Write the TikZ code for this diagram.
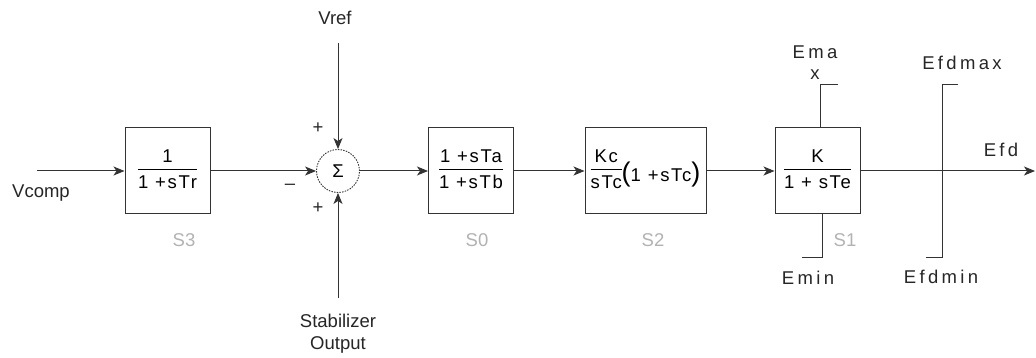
\documentclass[tikz,border=0pt]{standalone}
\usepackage{fontspec}
\setmainfont{Liberation Sans}
\newfontfamily\spaced[LetterSpace=18]{Liberation Sans}
\newfontfamily\boxfont[LetterSpace=9]{Liberation Sans}
\usetikzlibrary{arrows.meta}
\newcommand\fr[2]{\raisebox{-1.5pt}{$\vcenter{\hbox{\begin{tabular}{@{}c@{}}\rule[-5.5pt]{0pt}{13pt}#1\\\hline\rule{0pt}{18.5pt}#2\end{tabular}}}$}}
\newcommand\bigpar[1]{{\fontsize{27}{27}\selectfont #1}}
\begin{document}
\begin{tikzpicture}[x=1pt,y=-1pt,
  font=\fontsize{18.5}{22}\selectfont,
  line/.style={draw=black!80, line width=1pt},
  arr/.style={line, -{Stealth[length=11pt,width=9pt,inset=3pt]}},
  block/.style={draw=black!80, line width=1pt, minimum width=85pt, minimum height=86pt, inner sep=0pt, font=\fontsize{18.5}{22}\boxfont},
  tag/.style={text=black!30},
  lbl/.style={text=black!85, inner sep=0pt},
]
\useasboundingbox (0,0) rectangle (1036,358);
% blocks
\node[block] (s3) at (167.5,171) {\fr{1}{1 +sTr}};
\node[draw=black!80, line width=0.9pt, dash pattern=on 1.5pt off 1.2pt, circle, minimum size=43pt, inner sep=0pt] (sum) at (338,171) {Σ};
\node[block] (s0) at (471,171) {\fr{1 +sTa}{1 +sTb}};
\node[block, minimum width=121pt] (s2) at (645.5,171) {\fr{Kc}{sTc}\raisebox{-8pt}[0pt][0pt]{\bigpar{(}1 +sTc\bigpar{)}}};
\node[block] (s1) at (817.5,171) {\fr{K}{1 + sTe}};
% coordinates
\coordinate (vin) at (37,171);
\coordinate (vref) at (338,43);
\coordinate (stab) at (338,298);
\coordinate (out) at (1035,171);
\coordinate (emaxc) at (820,85);
\coordinate (emaxe) at (838,85);
\coordinate (eminc) at (822,257);
\coordinate (emine) at (802,257);
\coordinate (lt) at (942,85);
\coordinate (lte) at (958,85);
\coordinate (lb) at (942,257);
\coordinate (lbe) at (926,257);
% connectors
\draw[arr] (vin) -- (s3);
\draw[arr] (s3) -- (sum);
\draw[arr] (vref) -- (sum);
\draw[arr] (stab) -- (sum);
\draw[arr] (sum) -- (s0);
\draw[arr] (s0) -- (s2);
\draw[arr] (s2) -- (s1);
\draw[arr] (s1) -- (out);
\draw[line] (emaxc |- s1.north) -- (emaxc) -- (emaxe);
\draw[line] (eminc |- s1.south) -- (eminc) -- (emine);
\draw[line] (lte) -- (lt) -- (lb) -- (lbe);
% labels
\node[lbl] (tvcomp) at (41,193) {Vcomp};
\node[lbl] (tvref) at (335,18) {Vref};
\node[lbl, align=center] (tstab) at (338,334) {Stabilizer\\Output};
\node[lbl] (p1) at (318,128) {+};
\node[lbl] (m1) at (290,187) {–};
\node[lbl] (p2) at (318,208) {+};
\node[lbl, tag] (t3) at (184,240) {S3};
\node[lbl, tag] (t0) at (477,240) {S0};
\node[lbl, tag] (t2) at (653,240) {S2};
\node[lbl, tag] (t1) at (845,240) {S1};
\node[lbl] (tema) at (815,52) {\spaced Ema};
\node[lbl] (tx) at (815,75) {\spaced x};
\node[lbl] (temin) at (808,278) {\spaced Emin};
\node[lbl] (tefdmax) at (962,63) {\spaced Efdmax};
\node[lbl] (tefd) at (1001,150) {\spaced Efd};
\node[lbl] (tefdmin) at (941,277) {\spaced Efdmin};
\end{tikzpicture}
\end{document}
